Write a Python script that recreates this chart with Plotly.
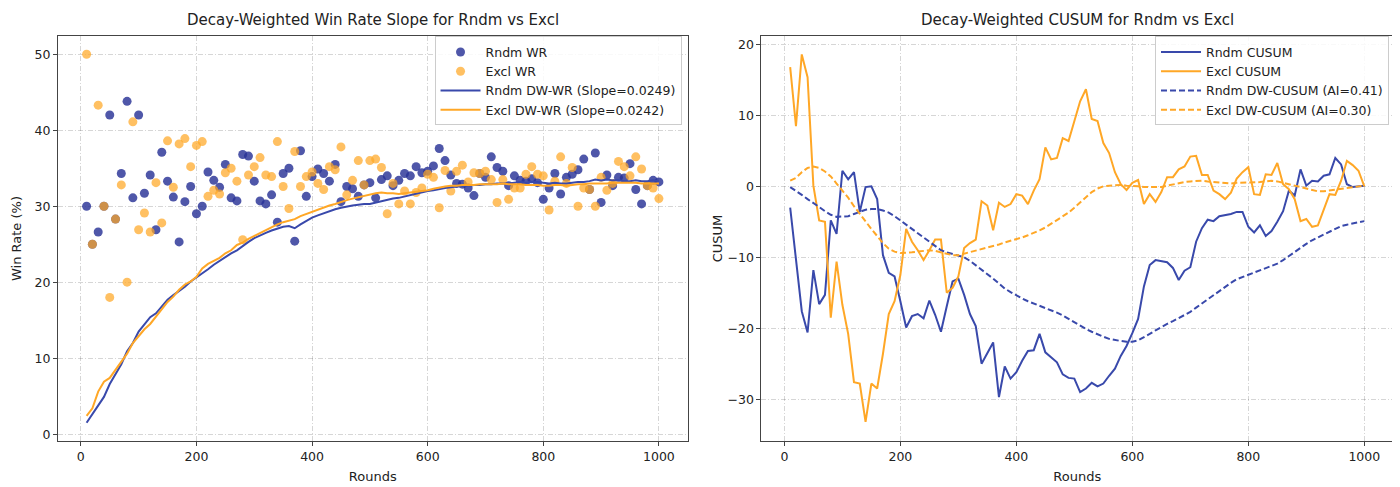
import plotly.graph_objects as go

rounds = list(range(10, 1001, 10))

rndm_wr = [30.0, 25.0, 26.6, 30.0, 42.0, 28.3, 34.3, 43.8, 31.1, 42.0,
           31.7, 34.1, 26.9, 37.1, 33.3, 31.2, 25.3, 30.6, 32.6, 29.0,
           30.0, 34.5, 33.4, 32.5, 35.5, 31.1, 30.7, 36.8, 36.6, 33.3,
           30.7, 30.3, 31.5, 27.9, 34.3, 35.0, 25.4, 37.3, 31.3, 33.9,
           34.9, 34.3, 33.3, 35.5, 30.6, 32.6, 32.3, 31.3, 32.8, 33.1,
           31.1, 33.5, 34.0, 32.7, 33.4, 34.3, 34.0, 35.2, 34.4, 34.6,
           35.3, 37.6, 36.0, 34.1, 33.0, 32.9, 32.4, 31.4, 34.3, 33.8,
           36.5, 35.1, 34.6, 32.7, 34.0, 33.4, 33.3, 33.6, 33.1, 30.9,
           32.4, 34.3, 31.6, 33.8, 34.2, 34.8, 36.2, 32.2, 37.0, 30.5,
           34.1, 32.7, 33.8, 33.7, 35.6, 32.2, 30.3, 32.7, 33.4, 33.2]

excl_wr = [50.0, 25.0, 43.3, 30.0, 18.0, 28.3, 32.8, 20.0, 41.1, 26.9,
           29.1, 26.6, 33.1, 27.8, 38.6, 32.5, 38.2, 38.9, 35.2, 38.0,
           38.5, 31.3, 32.1, 31.6, 34.4, 35.0, 33.3, 25.6, 34.1, 35.2,
           36.4, 34.1, 33.9, 38.5, 32.6, 29.7, 37.2, 32.6, 33.9, 34.5,
           33.0, 32.2, 35.2, 34.8, 37.8, 31.5, 33.4, 36.0, 32.8, 36.0,
           36.2, 35.1, 29.0, 33.0, 30.3, 32.0, 30.3, 31.8, 32.4, 34.2,
           33.8, 29.8, 34.7, 32.0, 34.6, 35.4, 33.2, 34.4, 34.3, 34.6,
           33.5, 30.5, 33.5, 30.9, 32.4, 32.4, 34.2, 35.2, 34.2, 34.0,
           29.5, 33.3, 36.5, 33.0, 35.1, 30.0, 32.4, 32.2, 30.0, 33.8,
           32.1, 33.0, 35.9, 35.2, 34.0, 36.5, 34.9, 32.7, 32.4, 31.0]

rndm_dwwr = [1.5, 2.6, 3.7, 4.9, 6.6, 7.9, 9.2, 10.9, 12.0, 13.5,
             14.5, 15.4, 15.9, 16.8, 17.7, 18.3, 18.8, 19.4, 20.1, 20.6,
             21.2, 21.7, 22.3, 22.8, 23.4, 23.8, 24.2, 24.8, 25.3, 25.8,
             26.2, 26.5, 26.8, 27.1, 27.3, 27.4, 27.1, 27.6, 28.1, 28.5,
             28.8, 29.1, 29.4, 29.6, 29.8, 30.0, 30.1, 30.2, 30.3, 30.3,
             30.5, 30.7, 30.9, 31.0, 31.1, 31.3, 31.5, 31.7, 31.8, 32.0,
             32.1, 32.3, 32.4, 32.5, 32.6, 32.7, 32.7, 32.8, 32.8, 32.9,
             32.9, 33.0, 33.0, 33.0, 33.1, 33.2, 33.1, 33.2, 33.2, 33.1,
             33.0, 33.1, 33.0, 33.0, 33.1, 33.2, 33.2, 33.3, 33.5, 33.4,
             33.5, 33.4, 33.4, 33.3, 33.3, 33.4, 33.3, 33.3, 33.4, 33.3]

excl_dwwr = [2.4, 3.4, 5.6, 6.9, 7.4, 8.5, 9.6, 10.6, 12.0, 12.9,
             13.8, 14.5, 15.5, 16.4, 17.4, 18.1, 19.0, 19.7, 20.1, 20.7,
             21.8, 22.4, 22.8, 23.2, 23.8, 24.2, 24.9, 25.2, 25.7, 26.1,
             26.5, 26.9, 27.2, 27.6, 27.9, 28.1, 28.3, 28.7, 29.0, 29.3,
             29.6, 29.8, 30.1, 30.3, 30.6, 30.8, 31.0, 31.2, 31.4, 31.5,
             31.7, 31.8, 31.7, 31.7, 31.6, 31.7, 31.8, 31.9, 32.0, 32.1,
             32.3, 32.5, 32.6, 32.7, 32.7, 32.8, 32.8, 32.8, 32.9, 32.9,
             32.9, 32.9, 33.0, 32.9, 32.9, 32.9, 32.8, 32.8, 32.8, 32.7,
             32.7, 32.8, 32.8, 32.7, 32.8, 32.9, 32.9, 33.0, 33.0, 33.0,
             33.0, 33.1, 33.1, 33.1, 33.1, 33.1, 33.0, 33.0, 33.0, 33.0]

rndm_cusum = [-3.0, -10.1, -17.6, -20.6, -11.8, -16.6, -15.3, -4.8, -6.7, 2.2,
              1.0, 2.0, -3.6, -0.1, 0.0, -1.8, -9.7, -12.2, -12.7, -16.2,
              -19.9, -18.3, -18.0, -18.6, -16.1, -18.1, -20.5, -16.9, -13.4, -13.0,
              -15.3, -18.0, -19.7, -25.0, -23.6, -22.0, -29.7, -25.4, -27.1, -26.2,
              -24.6, -23.2, -23.1, -20.8, -23.4, -24.1, -24.8, -26.5, -27.0, -27.1,
              -29.0, -28.5, -27.7, -28.2, -27.8, -26.7, -25.7, -23.9, -22.5, -20.7,
              -18.7, -14.1, -11.1, -10.4, -10.6, -10.7, -11.5, -13.2, -11.9, -11.4,
              -7.8, -5.9, -4.7, -4.9, -4.2, -4.1, -3.9, -3.6, -3.6, -5.7,
              -6.5, -5.5, -7.0, -6.3, -5.0, -3.5, -0.6, -1.3, 2.4, 0.1,
              0.8, 0.7, 1.5, 1.7, 4.0, 3.1, 0.3, -0.1, 0.0, 0.1]

excl_cusum = [16.8, 8.5, 18.6, 15.4, 0.1, -4.8, -5.0, -18.5, -10.6, -16.7,
              -20.8, -27.6, -27.8, -33.2, -27.8, -28.5, -23.6, -18.0, -16.2, -12.5,
              -6.0, -7.8, -9.0, -10.4, -9.0, -7.5, -7.5, -15.0, -14.3, -12.7,
              -8.7, -8.0, -7.5, -2.1, -2.7, -6.2, -2.3, -2.9, -2.5, -1.1,
              -1.3, -2.5, -0.6, 1.0, 5.5, 3.8, 4.0, 6.8, 6.4, 9.4,
              12.0, 13.7, 9.5, 9.2, 6.1, 4.7, 2.0, 0.3, -0.5, 0.5,
              0.9, -2.5, -1.1, -2.2, -0.8, 1.3, 1.3, 2.4, 2.8, 4.2,
              4.3, 1.6, 1.6, -0.6, -1.1, -1.8, -0.9, 1.1, 2.0, 2.7,
              -1.1, -1.2, 1.7, 1.6, 3.3, 0.3, -0.4, -1.8, -4.9, -4.6,
              -5.7, -5.5, -3.2, -1.1, -1.2, 0.8, 3.6, 3.0, 2.2, 0.0]

rndm_dwcusum = [-0.1, -0.6, -1.2, -1.8, -2.3, -2.9, -3.5, -4.0, -4.3, -4.3,
                -4.2, -3.9, -3.6, -3.3, -3.2, -3.2, -3.4, -3.7, -4.2, -4.8,
                -5.4, -6.0, -6.6, -7.3, -7.9, -8.5, -9.0, -9.3, -9.5, -9.7,
                -10.0, -10.5, -11.1, -11.7, -12.3, -13.0, -13.7, -14.4, -14.9, -15.4,
                -15.8, -16.2, -16.5, -16.8, -17.1, -17.4, -17.8, -18.2, -18.7, -19.2,
                -19.7, -20.1, -20.5, -20.9, -21.2, -21.5, -21.7, -21.8, -21.9, -21.9,
                -21.7, -21.3, -20.8, -20.3, -19.8, -19.4, -19.0, -18.6, -18.2, -17.7,
                -17.1, -16.5, -15.9, -15.3, -14.7, -14.1, -13.6, -13.1, -12.8, -12.5,
                -12.2, -11.9, -11.6, -11.3, -10.9, -10.4, -9.8, -9.2, -8.6, -8.1,
                -7.6, -7.2, -6.7, -6.3, -5.9, -5.6, -5.4, -5.2, -5.0, -4.9]

excl_dwcusum = [0.8, 1.2, 2.0, 2.6, 2.8, 2.6, 2.1, 1.4, 0.4, -0.6,
                -1.6, -2.8, -3.9, -5.0, -6.0, -7.0, -8.0, -8.8, -9.2, -9.4,
                -9.4, -9.3, -9.2, -9.1, -9.0, -9.1, -9.3, -9.5, -9.7, -9.7,
                -9.5, -9.3, -9.0, -8.8, -8.6, -8.4, -8.2, -7.9, -7.7, -7.5,
                -7.2, -6.9, -6.6, -6.2, -5.8, -5.3, -4.8, -4.3, -3.7, -3.0,
                -2.3, -1.5, -0.8, -0.3, 0.0, 0.1, 0.2, 0.2, 0.1, 0.1,
                0.0, -0.1, -0.1, -0.1, -0.1, 0.1, 0.3, 0.5, 0.6, 0.7,
                0.8, 0.8, 0.7, 0.6, 0.5, 0.4, 0.4, 0.5, 0.5, 0.5,
                0.5, 0.6, 0.7, 0.8, 0.7, 0.5, 0.3, 0.1, -0.2, -0.4,
                -0.6, -0.7, -0.7, -0.6, -0.5, -0.4, -0.2, -0.1, 0.0, 0.1]

rndm_slope = 0.0249
excl_slope = 0.0242
rndm_ai = 0.41
excl_ai = 0.30

BLUE_DOT = "rgba(40,50,150,0.82)"
ORANGE_DOT = "rgba(255,167,38,0.72)"
BLUE = "#3949AB"
ORANGE = "#FFA726"
FONT = "DejaVu Sans"

fig = go.Figure()

fig.add_trace(go.Scatter(x=rounds, y=rndm_wr, mode="markers", name="Rndm WR",
                         marker=dict(size=9, color=BLUE_DOT, line=dict(width=0)),
                         xaxis="x", yaxis="y", legend="legend"))
fig.add_trace(go.Scatter(x=rounds, y=excl_wr, mode="markers", name="Excl WR",
                         marker=dict(size=9, color=ORANGE_DOT, line=dict(width=0)),
                         xaxis="x", yaxis="y", legend="legend"))
fig.add_trace(go.Scatter(x=rounds, y=rndm_dwwr, mode="lines",
                         name=f"Rndm DW-WR (Slope={rndm_slope:.4f})",
                         line=dict(color=BLUE, width=2), xaxis="x", yaxis="y", legend="legend"))
fig.add_trace(go.Scatter(x=rounds, y=excl_dwwr, mode="lines",
                         name=f"Excl DW-WR (Slope={excl_slope:.4f})",
                         line=dict(color=ORANGE, width=2), xaxis="x", yaxis="y", legend="legend"))

fig.add_trace(go.Scatter(x=rounds, y=rndm_cusum, mode="lines", name="Rndm CUSUM",
                         line=dict(color=BLUE, width=2), xaxis="x2", yaxis="y2", legend="legend2"))
fig.add_trace(go.Scatter(x=rounds, y=excl_cusum, mode="lines", name="Excl CUSUM",
                         line=dict(color=ORANGE, width=2), xaxis="x2", yaxis="y2", legend="legend2"))
fig.add_trace(go.Scatter(x=rounds, y=rndm_dwcusum, mode="lines",
                         name=f"Rndm DW-CUSUM (AI={rndm_ai:.2f})",
                         line=dict(color=BLUE, width=2, dash="6px,3px"),
                         xaxis="x2", yaxis="y2", legend="legend2"))
fig.add_trace(go.Scatter(x=rounds, y=excl_dwcusum, mode="lines",
                         name=f"Excl DW-CUSUM (AI={excl_ai:.2f})",
                         line=dict(color=ORANGE, width=2, dash="6px,3px"),
                         xaxis="x2", yaxis="y2", legend="legend2"))

axis_common = dict(showline=True, mirror=True, linecolor="#444", linewidth=1,
                   ticks="outside", ticklen=4, tickcolor="#444",
                   showgrid=True, gridcolor="rgba(0,0,0,0.16)", griddash="5px,2px,1px,2px", gridwidth=1,
                   zeroline=False, tickfont=dict(family=FONT, size=12.5, color="#222"))

# page has an 8px body margin; the figure is sized to fit the 1400x487 window
W, H = 1392, 479
L, R, T, B = 50, 6, 27.5, 43.5
pw = W - L - R
fig.update_layout(
    width=W, height=H,
    margin=dict(l=L, r=R, t=T, b=B),
    plot_bgcolor="white", paper_bgcolor="white",
    font=dict(family=FONT, size=12, color="#222"),
    xaxis=dict(domain=[0, (680 - L) / pw], range=[-39.5, 1049.5],
               tickvals=[0, 200, 400, 600, 800, 1000], anchor="y",
               title=dict(text="Rounds", font=dict(size=13), standoff=8), **axis_common),
    yaxis=dict(domain=[0, 1], range=[-0.9, 52.4], tickvals=[0, 10, 20, 30, 40, 50], anchor="x",
               title=dict(text="Win Rate (%)", font=dict(size=13), standoff=10), **axis_common),
    xaxis2=dict(domain=[(754 - L) / pw, 1], range=[-39.5, 1049.5],
                tickvals=[0, 200, 400, 600, 800, 1000], anchor="y2",
                title=dict(text="Rounds", font=dict(size=13), standoff=8), **axis_common),
    yaxis2=dict(domain=[0, 1], range=[-35.9, 21.2], tickvals=[-30, -20, -10, 0, 10, 20], anchor="x2",
                title=dict(text="CUSUM", font=dict(size=13), standoff=2), **axis_common),
    legend=dict(x=(674 - L) / pw, y=0.999, xanchor="right", yanchor="top",
                bgcolor="rgba(255,255,255,0.85)", bordercolor="#ccc", borderwidth=1,
                font=dict(family=FONT, size=12.5), tracegroupgap=0, itemwidth=40),
    legend2=dict(x=1 - 4 / pw, y=0.999, xanchor="right", yanchor="top",
                 bgcolor="rgba(255,255,255,0.85)", bordercolor="#ccc", borderwidth=1,
                 font=dict(family=FONT, size=12.5), tracegroupgap=0, itemwidth=40),
    annotations=[
        dict(text="Decay-Weighted Win Rate Slope for Rndm vs Excl", x=0.25, y=1, xref="paper",
             yref="paper", xanchor="center", yanchor="bottom", yshift=5, showarrow=False,
             font=dict(family=FONT, size=15, color="#222")),
        dict(text="Decay-Weighted CUSUM for Rndm vs Excl", x=0.75, y=1, xref="paper",
             yref="paper", xanchor="center", yanchor="bottom", yshift=5, showarrow=False,
             font=dict(family=FONT, size=15, color="#222")),
    ],
)

d1 = fig.layout.xaxis.domain
d2 = fig.layout.xaxis2.domain
fig.layout.annotations[0].x = (d1[0] + d1[1]) / 2
fig.layout.annotations[1].x = (d2[0] + d2[1]) / 2

fig.write_html("out.html")
